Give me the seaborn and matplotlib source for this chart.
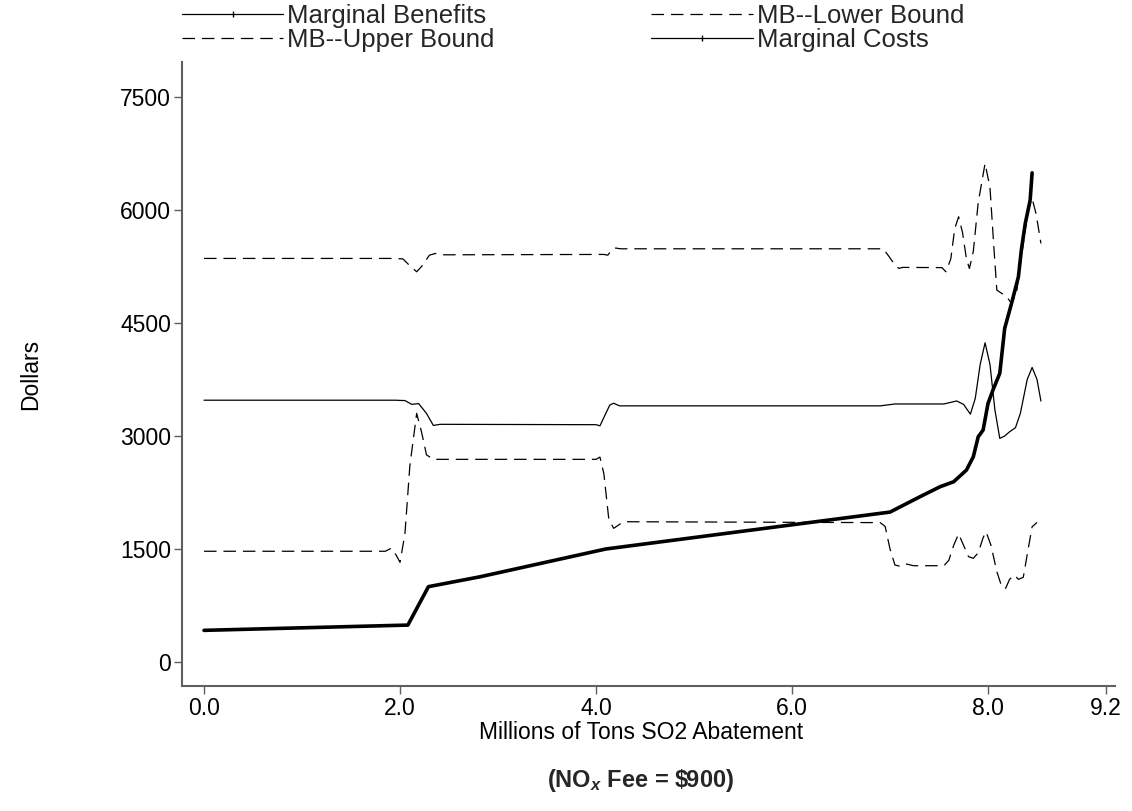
import matplotlib
matplotlib.use("Agg")
import matplotlib.pyplot as plt
import seaborn as sns
import pandas as pd
from matplotlib.lines import Line2D

# ---- data ----
mb_x = [0.0, 1.95, 2.05, 2.12, 2.19, 2.27, 2.34, 2.41, 4.00, 4.04, 4.10, 4.14, 4.18, 4.24,
        6.90, 7.05, 7.55, 7.68, 7.75, 7.82, 7.87, 7.92, 7.97, 8.02, 8.07, 8.12, 8.17, 8.22,
        8.28, 8.33, 8.40, 8.45, 8.50, 8.54]
mb_y = [3475, 3475, 3470, 3420, 3430, 3300, 3140, 3155, 3150, 3135, 3300, 3410, 3435, 3400,
        3400, 3425, 3425, 3465, 3420, 3290, 3500, 3950, 4237, 3950, 3350, 2968, 3000, 3056,
        3110, 3300, 3750, 3910, 3750, 3463]

lb_x = [0.0, 1.85, 1.91, 1.96, 2.00, 2.05, 2.10, 2.17, 2.22, 2.27, 2.34, 4.00, 4.04, 4.08,
        4.13, 4.18, 4.28, 6.90, 6.95, 7.00, 7.05, 7.12, 7.17, 7.24, 7.55, 7.60, 7.65, 7.70,
        7.75, 7.80, 7.85, 7.90, 7.95, 7.98, 8.03, 8.09, 8.14, 8.18, 8.22, 8.27, 8.31, 8.36,
        8.41, 8.45, 8.50]
lb_y = [1470, 1470, 1510, 1420, 1323, 1700, 2600, 3300, 3050, 2750, 2690, 2690, 2720, 2500,
        1900, 1774, 1862, 1850, 1800, 1500, 1287, 1265, 1300, 1278, 1278, 1350, 1550, 1700,
        1550, 1400, 1376, 1450, 1650, 1729, 1550, 1200, 999, 978, 1097, 1154, 1097, 1124,
        1500, 1795, 1853]

ub_x = [0.0, 1.95, 2.03, 2.10, 2.17, 2.22, 2.30, 2.36, 2.42, 4.08, 4.12, 4.16, 4.20, 4.25,
        6.93, 6.98, 7.04, 7.09, 7.13, 7.53, 7.57, 7.62, 7.66, 7.70, 7.74, 7.78, 7.81, 7.85,
        7.90, 7.97, 8.02, 8.06, 8.09, 8.14, 8.19, 8.24, 8.29, 8.36, 8.41, 8.45, 8.49, 8.54]
ub_y = [5357, 5357, 5350, 5260, 5180, 5250, 5400, 5423, 5405, 5410, 5400, 5470, 5495, 5485,
        5485, 5400, 5290, 5224, 5238, 5235, 5180, 5350, 5750, 5910, 5700, 5350, 5224, 5450,
        6100, 6618, 6300, 5500, 4937, 4893, 4848, 4760, 4893, 5556, 6000, 6153, 5950, 5556]

mc_x = [0.0, 2.08, 2.29, 2.82, 4.10, 7.00, 7.30, 7.51, 7.65, 7.78, 7.85, 7.90, 7.95, 8.00,
        8.05, 8.12, 8.17, 8.24, 8.31, 8.34, 8.38, 8.43, 8.45]
mc_y = [420, 490, 1000, 1132, 1500, 1990, 2190, 2326, 2393, 2548, 2724, 2990, 3079, 3432,
        3609, 3831, 4428, 4760, 5113, 5467, 5821, 6131, 6493]

x_ticks = [0.0, 2.0, 4.0, 6.0, 8.0, 9.2]
x_tick_labels = ["0.0", "2.0", "4.0", "6.0", "8.0", "9.2"]
y_ticks = [0, 1500, 3000, 4500, 6000, 7500]
series_names = ["Marginal Benefits", "MB--Upper Bound", "MB--Lower Bound", "Marginal Costs"]

# ---- style ----
sns.set_theme(style="ticks")
plt.rcParams["font.family"] = ["Liberation Sans", "DejaVu Sans"]
plt.rcParams["lines.scale_dashes"] = False
plt.rcParams["mathtext.fontset"] = "custom"
plt.rcParams["mathtext.rm"] = "Liberation Sans:bold"
plt.rcParams["mathtext.it"] = "Liberation Sans:italic:bold"
plt.rcParams["mathtext.bf"] = "Liberation Sans:bold"

FS = 16.5
LFS = 18.5
DASH = (0, (9, 5))
AXC = "#5f5f5f"

fig = plt.figure(figsize=(11.32, 8.11), dpi=100)
ax = fig.add_axes([0.1608, 0.1541, 0.8242, 0.7695])

def draw(xs, ys, lw, ls):
    df = pd.DataFrame({"x": xs, "y": ys})
    sns.lineplot(data=df, x="x", y="y", ax=ax, color="black", linewidth=lw,
                 linestyle=ls, sort=False, estimator=None)

draw(mb_x, mb_y, 0.9, "-")
draw(ub_x, ub_y, 0.9, DASH)
draw(lb_x, lb_y, 0.9, DASH)
draw(mc_x, mc_y, 2.6, "-")

ax.set_xlim(-0.2245, 9.296)
ax.set_ylim(-319, 7965)
ax.set_xticks(x_ticks)
ax.set_xticklabels(x_tick_labels)
ax.set_yticks(y_ticks)
ax.set_yticklabels([str(v) for v in y_ticks])
sns.despine(ax=ax)
for s in ("left", "bottom"):
    ax.spines[s].set_color(AXC)
    ax.spines[s].set_linewidth(1.5)
ax.tick_params(axis="both", length=5.5, width=1.0, color=AXC, labelsize=FS,
               labelcolor="black", pad=2.5)

ax.set_ylabel("Dollars", fontsize=FS, color="black")
ax.yaxis.set_label_coords(-0.150, 0.5)
ax.set_xlabel("Millions of Tons SO2 Abatement", fontsize=FS, color="black")
ax.xaxis.label.set_va("center")
ax.xaxis.set_label_coords(0.492, -0.074)

fig.text(641 / 1132, 1 - 781 / 811, r"(NO$_{x}$ Fee = \$900)", ha="center", va="center",
         fontsize=FS + 0.5, fontweight="bold")

handles = [
    Line2D([], [], color="black", lw=0.9, marker="|", markersize=4),
    Line2D([], [], color="black", lw=0.9, linestyle=DASH),
    Line2D([], [], color="black", lw=0.9, linestyle=DASH),
    Line2D([], [], color="black", lw=0.9, marker="|", markersize=4),
]
fig.legend(handles=handles, labels=series_names, ncol=2, loc="upper left",
           bbox_to_anchor=(182 / 1132, 1 - 4 / 811), frameon=False, fontsize=LFS,
           handlelength=3.95, handletextpad=0.15, columnspacing=6.1,
           labelspacing=0.0, borderpad=0.0, borderaxespad=0.0, numpoints=1)

fig.savefig("out.png", dpi=100, facecolor="white")
